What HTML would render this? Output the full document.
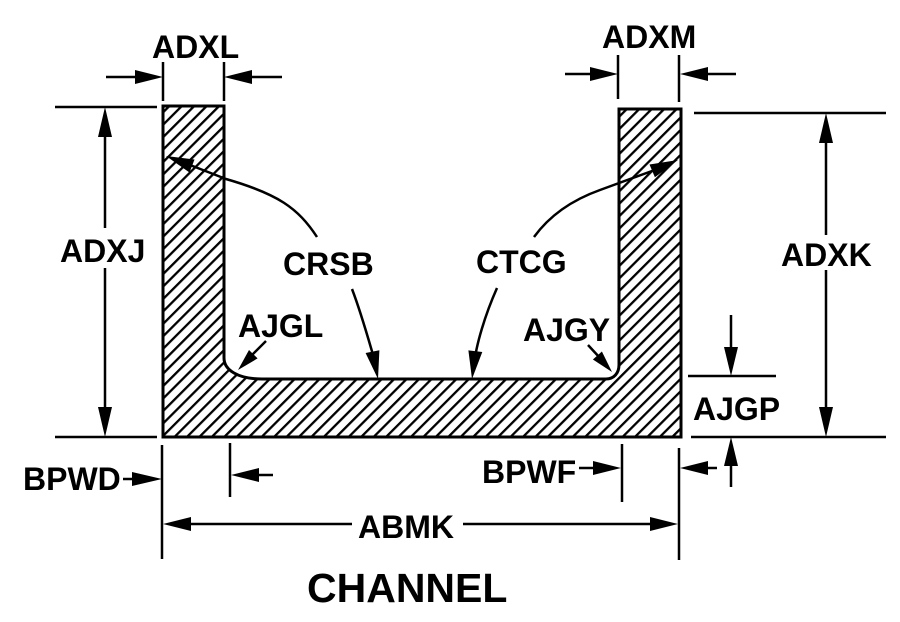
<!DOCTYPE html>
<html><head><meta charset="utf-8"><style>
html,body{margin:0;padding:0;background:#fff;}
svg{display:block;}
text{font-family:"Liberation Sans",Arial,sans-serif;font-weight:bold;fill:#000;}
</style></head><body>
<svg width="900" height="622" viewBox="0 0 900 622" xmlns="http://www.w3.org/2000/svg">
<defs>
<pattern id="h" patternUnits="userSpaceOnUse" width="8.8" height="8.8" patternTransform="rotate(45)">
<rect x="0" y="0" width="2.3" height="8.8" fill="#000"/>
</pattern>
</defs>
<!-- channel shape -->
<path d="M163,106 H224 V358 C224,370 238,379 262,379 H606 C614,379 619,373 619,365 V109 H681 V437 H163 Z" fill="url(#h)" stroke="#000" stroke-width="3"/>
<g stroke="#000" stroke-width="2.5" fill="none">
<!-- ADXL -->
<line x1="163" y1="62" x2="163" y2="101"/><line x1="224" y1="62" x2="224" y2="101"/>
<line x1="106" y1="77" x2="140" y2="77"/><line x1="250" y1="77" x2="282" y2="77"/>
<!-- ADXM -->
<line x1="618" y1="55" x2="618" y2="99"/><line x1="679" y1="55" x2="679" y2="102"/>
<line x1="565" y1="74" x2="595" y2="74"/><line x1="705" y1="74" x2="736" y2="74"/>
<!-- ADXJ -->
<line x1="55" y1="107" x2="157" y2="107"/><line x1="55" y1="437" x2="157" y2="437"/>
<line x1="105" y1="130" x2="105" y2="228"/><line x1="105" y1="268" x2="105" y2="414"/>
<!-- ADXK -->
<line x1="694" y1="113" x2="886" y2="113"/><line x1="691" y1="437" x2="886" y2="437"/>
<line x1="826" y1="135" x2="826" y2="235"/><line x1="826" y1="270" x2="826" y2="414"/>
<!-- AJGP -->
<line x1="688" y1="376" x2="776" y2="376"/>
<line x1="731" y1="315" x2="731" y2="352"/>
<line x1="731" y1="460" x2="731" y2="487"/>
<!-- BPWD -->
<line x1="123" y1="479" x2="140" y2="479"/>
<line x1="162" y1="445" x2="162" y2="559"/>
<line x1="230" y1="443" x2="230" y2="497"/>
<line x1="252" y1="475" x2="273" y2="475"/>
<!-- BPWF -->
<line x1="579" y1="468" x2="600" y2="468"/>
<line x1="622" y1="444" x2="622" y2="502"/>
<line x1="679" y1="448" x2="679" y2="560"/>
<line x1="702" y1="468" x2="717" y2="468"/>
<!-- ABMK -->
<line x1="185" y1="524" x2="352" y2="524"/>
<line x1="463" y1="524" x2="656" y2="524"/>
<!-- leaders -->
<path d="M317,237 C298,208 278,194 226,179 L190,165"/>
<path d="M352,289 C362,315 370,345 376,365"/>
<path d="M534,237 C550,215 572,200 600,190 L652,171"/>
<path d="M497,288 C485,315 476,345 474,365"/>
<path d="M266,341 L252,355"/>
<path d="M588,345 L600,358"/>
</g>
<g fill="#000">
<polygon points="163,77 135,70 135,84"/>
<polygon points="224,77 252,70 252,84"/>
<polygon points="618,74 590,67 590,81"/>
<polygon points="680,74 708,67 708,81"/>
<polygon points="105,107 98,137 112,137"/>
<polygon points="105,437 98,407 112,407"/>
<polygon points="826,113 819,143 833,143"/>
<polygon points="826,437 819,407 833,407"/>
<polygon points="731,376 724,347 738,347"/>
<polygon points="731,437 724,466 738,466"/>
<polygon points="162,479 132,472 132,486"/>
<polygon points="231,475 259,468 259,482"/>
<polygon points="621,468 593,461 593,475"/>
<polygon points="680,468 708,461 708,475"/>
<polygon points="163,524 191,517 191,531"/>
<polygon points="678,524 650,517 650,531"/>
<polygon points="166,156 194.5,159.5 189.5,172.5"/>
<polygon points="378,379 379.4,350.2 365.6,353"/>
<polygon points="678,160 654.9,177.3 649.5,164.5"/>
<polygon points="472,379 482.3,352 468.4,350.4"/>
<polygon points="238,370 257.6,358.4 249,350"/>
<polygon points="612,372 601.9,351.5 592.9,359.5"/>
</g>
<g font-size="32">
<text x="152" y="58">ADXL</text>
<text x="602" y="48">ADXM</text>
<text x="60" y="262">ADXJ</text>
<text x="781" y="266">ADXK</text>
<text x="283" y="275">CRSB</text>
<text x="476" y="273">CTCG</text>
<text x="238" y="337">AJGL</text>
<text x="523" y="341">AJGY</text>
<text x="693" y="420">AJGP</text>
<text x="23" y="490">BPWD</text>
<text x="482" y="483">BPWF</text>
<text x="358" y="538">ABMK</text>
</g>
<text x="307" y="602" font-size="41">CHANNEL</text>
</svg>
</body></html>
